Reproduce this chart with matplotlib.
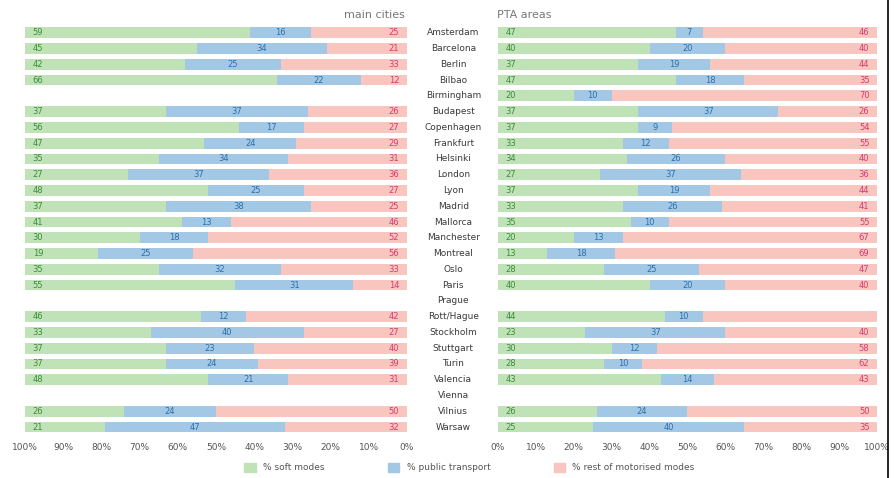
import numpy as np
import matplotlib.pyplot as plt

cities = ['Amsterdam', 'Barcelona', 'Berlin', 'Bilbao', 'Birmingham', 'Budapest',
          'Copenhagen', 'Frankfurt', 'Helsinki', 'London', 'Lyon', 'Madrid',
          'Mallorca', 'Manchester', 'Montreal', 'Oslo', 'Paris', 'Prague',
          'Rott/Hague', 'Stockholm', 'Stuttgart', 'Turin', 'Valencia', 'Vienna',
          'Vilnius', 'Warsaw']

# main cities (None = no data)
main_soft = [59, 45, 42, 66, None, 37, 56, 47, 35, 27, 48, 37, 41, 30, 19, 35, 55, None,
             46, 33, 37, 37, 48, None, 26, 21]
main_pt = [16, 34, 25, 22, None, 37, 17, 24, 34, 37, 25, 38, 13, 18, 25, 32, 31, None,
           12, 40, 23, 24, 21, None, 24, 47]
main_rest = [25, 21, 33, 12, None, 26, 27, 29, 31, 36, 27, 25, 46, 52, 56, 33, 14, None,
             42, 27, 40, 39, 31, None, 50, 32]

# PTA areas
pta_soft = [47, 40, 37, 47, 20, 37, 37, 33, 34, 27, 37, 33, 35, 20, 13, 28, 40, None,
            44, 23, 30, 28, 43, None, 26, 25]
pta_pt = [7, 20, 19, 18, 10, 37, 9, 12, 26, 37, 19, 26, 10, 13, 18, 25, 20, None,
          10, 37, 12, 10, 14, None, 24, 40]
pta_rest = [46, 40, 44, 35, 70, 26, 54, 55, 40, 36, 44, 41, 55, 67, 69, 47, 40, None,
            46, 40, 58, 62, 43, None, 50, 35]
pta_rest_shown = [True] * 18 + [False] + [True] * 7

ticks = np.arange(0, 101, 10)

c_soft, c_pt, c_rest = '#bfe2b6', '#a3c8e6', '#f8c6bf'
t_soft, t_pt, t_rest = '#3c8c3c', '#2d6fa6', '#d63a6e'

fig = plt.figure(figsize=(8.94, 4.78), dpi=100)
axl = fig.add_axes([0.028, 0.09, 0.427, 0.858])
axr = fig.add_axes([0.557, 0.09, 0.424, 0.858])

y = np.arange(len(cities))
h = 0.68


def draw(ax, soft, pt, rest, left_side, rest_shown=None):
    for i in range(len(cities)):
        if soft[i] is None:
            continue
        s, p, r = soft[i], pt[i], rest[i]
        if left_side:
            # red from 0 (right), then blue, then green
            ax.barh(y[i], r, left=0, height=h, color=c_rest, lw=0)
            ax.barh(y[i], p, left=r, height=h, color=c_pt, lw=0)
            ax.barh(y[i], s, left=r + p, height=h, color=c_soft, lw=0)
            ax.text(98, y[i], str(s), color=t_soft, fontsize=6, va='center', ha='left')
            ax.text(r + p / 2, y[i], str(p), color=t_pt, fontsize=6, va='center', ha='center')
            ax.text(2, y[i], str(r), color=t_rest, fontsize=6, va='center', ha='right')
        else:
            ax.barh(y[i], s, left=0, height=h, color=c_soft, lw=0)
            ax.barh(y[i], p, left=s, height=h, color=c_pt, lw=0)
            ax.barh(y[i], r, left=s + p, height=h, color=c_rest, lw=0)
            ax.text(2, y[i], str(s), color=t_soft, fontsize=6, va='center', ha='left')
            ax.text(s + p / 2, y[i], str(p), color=t_pt, fontsize=6, va='center', ha='center')
            if rest_shown is None or rest_shown[i]:
                ax.text(98, y[i], str(r), color=t_rest, fontsize=6, va='center', ha='right')
    ax.set_ylim(len(cities) - 0.5, -0.5)
    ax.set_xticks(ticks)
    ax.set_xticklabels([f'{t}%' for t in ticks], fontsize=6.5, color='#555555')
    ax.set_yticks([])
    ax.tick_params(axis='x', length=0, pad=6)
    for sp in ax.spines.values():
        sp.set_visible(False)


draw(axl, main_soft, main_pt, main_rest, True)
axl.set_xlim(100, 0)
draw(axr, pta_soft, pta_pt, pta_rest, False, pta_rest_shown)
axr.set_xlim(0, 100)

# city names in the middle
for i, c in enumerate(cities):
    yy = axl.transData.transform((0, y[i]))[1]
    fy = fig.transFigure.inverted().transform((0, yy))[1]
    fig.text(0.507, fy, c, ha='center', va='center', fontsize=6.5, color='#3a3a3a')

fig.text(0.453, 0.968, 'main cities', ha='right', va='center', fontsize=8, color='#777777')
fig.text(0.556, 0.968, 'PTA areas', ha='left', va='center', fontsize=8, color='#777777')

# legend
handles = [plt.Rectangle((0, 0), 1, 1, color=c) for c in (c_soft, c_pt, c_rest)]
fig.legend(handles, ['% soft modes', '% public transport', '% rest of motorised modes'],
           loc='center', bbox_to_anchor=(0.525, 0.022), ncol=3, frameon=False,
           fontsize=6.5, handlelength=1.3, handleheight=1.3, columnspacing=7,
           labelcolor='#555555')

# frame line at right edge
fig.add_artist(plt.Line2D([0.993, 0.993], [0.0, 1.0], color='black', lw=1.2,
                          transform=fig.transFigure))

fig.savefig('out.png', dpi=100)
